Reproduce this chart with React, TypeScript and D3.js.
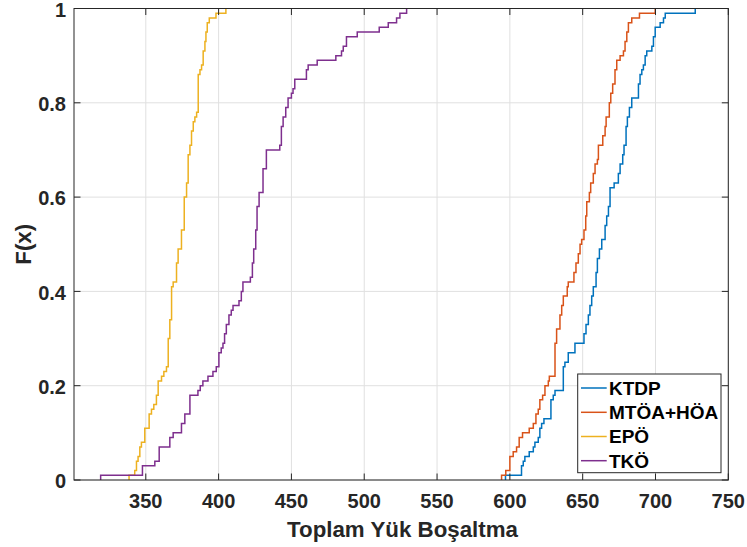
import React from "react";
import * as d3 from "d3";

// Empirical CDF step corners: x where a step occurs, F level after it.
const ktdpX = [597, 608.0, 609.2, 610.3, 613.3, 616.1, 617.2, 619.5, 620.6, 621.8, 623.4, 628.2, 629.8, 631.0, 636.7, 637.8, 640.1, 644.7, 650.9, 652.3, 653.9, 655.0, 656.2, 657.3, 659.2, 660.1, 661.5, 663.1, 665.4, 666.5, 667.7, 668.8, 671.6, 674.5, 675.7, 677.5, 678.4, 679.8, 680.7, 682.1, 683.7, 688.3, 689.4, 690.6, 691.7, 692.9, 694.0, 697.5, 698.6, 699.8, 703.2, 705.5, 706.7, 727.3];
const ktdpF = [0.01, 0.03, 0.04, 0.05, 0.06, 0.07, 0.08, 0.09, 0.11, 0.12, 0.13, 0.17, 0.18, 0.19, 0.24, 0.25, 0.27, 0.29, 0.31, 0.33, 0.35, 0.37, 0.39, 0.41, 0.44, 0.47, 0.49, 0.51, 0.54, 0.56, 0.58, 0.62, 0.63, 0.65, 0.67, 0.69, 0.71, 0.75, 0.77, 0.79, 0.81, 0.84, 0.86, 0.87, 0.88, 0.90, 0.91, 0.92, 0.94, 0.96, 0.97, 0.98, 0.99, 1.0];

const mtoaX = [594.3, 597.2, 600.0, 602.3, 604.6, 606.4, 608.7, 613.3, 616.1, 617.9, 619.5, 620.6, 622.5, 624.1, 626.4, 627.1, 631.0, 632.1, 634.4, 635.6, 636.7, 639.4, 640.1, 644.0, 645.4, 647.0, 648.2, 649.3, 650.9, 652.1, 652.8, 654.6, 655.5, 657.3, 658.5, 660.1, 660.8, 663.8, 665.4, 666.1, 668.3, 669.3, 670.6, 672.2, 673.4, 675.7, 678.0, 679.1, 680.3, 681.4, 683.7, 689.0, 699.8];
const mtoaF = [0.01, 0.02, 0.05, 0.06, 0.07, 0.09, 0.10, 0.11, 0.12, 0.14, 0.15, 0.17, 0.18, 0.20, 0.21, 0.22, 0.29, 0.32, 0.35, 0.37, 0.39, 0.41, 0.42, 0.44, 0.46, 0.48, 0.50, 0.51, 0.53, 0.56, 0.59, 0.61, 0.63, 0.65, 0.67, 0.68, 0.71, 0.73, 0.75, 0.77, 0.80, 0.82, 0.84, 0.87, 0.89, 0.90, 0.91, 0.93, 0.95, 0.97, 0.98, 0.99, 1.0];

const epoX = [338.5, 342.4, 343.6, 344.7, 345.9, 347.0, 349.3, 352.3, 353.9, 355.5, 357.3, 358.5, 360.8, 362.4, 364.2, 365.4, 366.5, 367.7, 368.8, 371.1, 372.2, 374.5, 376.4, 378.0, 379.1, 380.3, 381.4, 382.6, 383.7, 384.9, 386.0, 387.2, 388.3, 389.4, 390.6, 391.3, 392.2, 393.6, 398.2, 405.0];
const epoF = [0.01, 0.02, 0.04, 0.05, 0.07, 0.08, 0.11, 0.14, 0.15, 0.16, 0.18, 0.21, 0.22, 0.23, 0.24, 0.30, 0.34, 0.41, 0.42, 0.46, 0.49, 0.53, 0.60, 0.63, 0.69, 0.71, 0.74, 0.76, 0.77, 0.78, 0.86, 0.87, 0.88, 0.91, 0.93, 0.95, 0.97, 0.98, 0.99, 1.0];

const tkoX = [319.0, 347.7, 356.2, 359.2, 366.5, 368.8, 374.5, 376.8, 380.3, 385.8, 387.4, 389.2, 392.7, 396.1, 398.4, 400.2, 401.8, 403.0, 404.1, 405.3, 407.1, 408.7, 409.9, 414.0, 415.6, 416.7, 421.8, 423.2, 424.1, 425.5, 426.4, 427.8, 430.5, 432.8, 442.0, 443.1, 444.3, 446.1, 447.7, 450.0, 451.1, 452.3, 460.3, 461.5, 467.7, 480.5, 484.4, 485.6, 487.8, 495.2, 510.3, 516.5, 522.2, 524.5, 529.1];
const tkoF = [0.01, 0.03, 0.04, 0.07, 0.09, 0.10, 0.12, 0.14, 0.18, 0.19, 0.20, 0.21, 0.22, 0.23, 0.24, 0.27, 0.28, 0.29, 0.31, 0.33, 0.35, 0.36, 0.37, 0.38, 0.40, 0.42, 0.43, 0.46, 0.49, 0.53, 0.58, 0.61, 0.66, 0.70, 0.71, 0.75, 0.77, 0.79, 0.81, 0.82, 0.83, 0.85, 0.87, 0.88, 0.89, 0.90, 0.91, 0.92, 0.94, 0.95, 0.96, 0.97, 0.98, 0.99, 1.0];

const seriesNames = ["KTDP", "MTÖA+HÖA", "EPÖ", "TKÖ"];
const seriesColors = ["#0072BD", "#D95319", "#EDB120", "#7E2F8E"];
const xTicks = [350, 400, 450, 500, 550, 600, 650, 700, 750];
const yTicks = [0, 0.2, 0.4, 0.6, 0.8, 1];
const xLabel = "Toplam Yük Boşaltma";
const yLabel = "F(x)";

const W = 747;
const H = 547;
const left = 74;
const right = 728.3;
const top = 8.5;
const bottom = 480;
const axisColor = "#262626";
const font = "'Liberation Sans', Arial, Helvetica, sans-serif";
const tickLen = 6.5;

export default function App() {
  const x = d3.scaleLinear().domain([300.7, 750]).range([left, right]);
  const y = d3.scaleLinear().domain([0, 1]).range([bottom, top]);

  const data = [
    [ktdpX, ktdpF],
    [mtoaX, mtoaF],
    [epoX, epoF],
    [tkoX, tkoF],
  ];

  const line = d3
    .line<[number, number]>()
    .x((d) => x(d[0]))
    .y((d) => y(d[1]))
    .curve(d3.curveStepAfter);

  const paths = data.map(([xs, fs]) => {
    const pts: [number, number][] = [[xs[0], 0]];
    xs.forEach((v, i) => pts.push([v, fs[i]]));
    return line(pts) || "";
  });

  const legX = 577.7;
  const legY = 374;
  const legW = 143.3;
  const legH = 98.7;
  const rowY = [388, 412.3, 436.5, 460.7];

  return (
    <svg
      width={W}
      height={H}
      style={{ position: "absolute", left: 0, top: 0, background: "#fff" }}
      fontFamily={font}
    >
      <rect x={0} y={0} width={W} height={H} fill="#fff" />
      {/* grid */}
      <g stroke="#e0e0e0" strokeWidth={1}>
        {xTicks.map((t) => (
          <line key={"gx" + t} x1={x(t)} x2={x(t)} y1={top} y2={bottom} />
        ))}
        {yTicks.map((t) => (
          <line key={"gy" + t} x1={left} x2={right} y1={y(t)} y2={y(t)} />
        ))}
      </g>
      {/* series */}
      <g fill="none" strokeWidth={1.5} strokeLinejoin="miter">
        {paths.map((p, i) => (
          <path key={seriesNames[i]} d={p} stroke={seriesColors[i]} />
        ))}
      </g>
      {/* box and ticks */}
      <g stroke={axisColor} strokeWidth={1}>
        <rect x={left} y={top} width={right - left} height={bottom - top} fill="none" />
        {xTicks.map((t) => (
          <g key={"tx" + t}>
            <line x1={x(t)} x2={x(t)} y1={bottom} y2={bottom - tickLen} />
            <line x1={x(t)} x2={x(t)} y1={top} y2={top + tickLen} />
          </g>
        ))}
        {yTicks.map((t) => (
          <g key={"ty" + t}>
            <line x1={left} x2={left + tickLen} y1={y(t)} y2={y(t)} />
            <line x1={right} x2={right - tickLen} y1={y(t)} y2={y(t)} />
          </g>
        ))}
      </g>
      {/* tick labels */}
      <g fill={axisColor} fontWeight="bold" fontSize={20}>
        {xTicks.map((t) => (
          <text key={"lx" + t} x={x(t)} y={508.3} textAnchor="middle">
            {t}
          </text>
        ))}
        {yTicks.map((t) => (
          <text key={"ly" + t} x={66} y={y(t) + 8.2} textAnchor="end">
            {t}
          </text>
        ))}
      </g>
      {/* axis labels */}
      <text
        x={402.5}
        y={537}
        textAnchor="middle"
        fontWeight="bold"
        fontSize={22.3}
        fill={axisColor}
      >
        {xLabel}
      </text>
      <text
        transform={`translate(31, ${(top + bottom) / 2}) rotate(-90)`}
        textAnchor="middle"
        fontWeight="bold"
        fontSize={22.3}
        fill={axisColor}
      >
        {yLabel}
      </text>
      {/* legend */}
      <rect x={legX} y={legY} width={legW} height={legH} fill="#fff" stroke={axisColor} strokeWidth={1} />
      {seriesNames.map((n, i) => (
        <g key={"leg" + n}>
          <line x1={581} x2={606.7} y1={rowY[i]} y2={rowY[i]} stroke={seriesColors[i]} strokeWidth={1.5} />
          <text x={609} y={rowY[i] + 6.8} fontWeight="bold" fontSize={19} fill="#000">
            {n}
          </text>
        </g>
      ))}
    </svg>
  );
}
